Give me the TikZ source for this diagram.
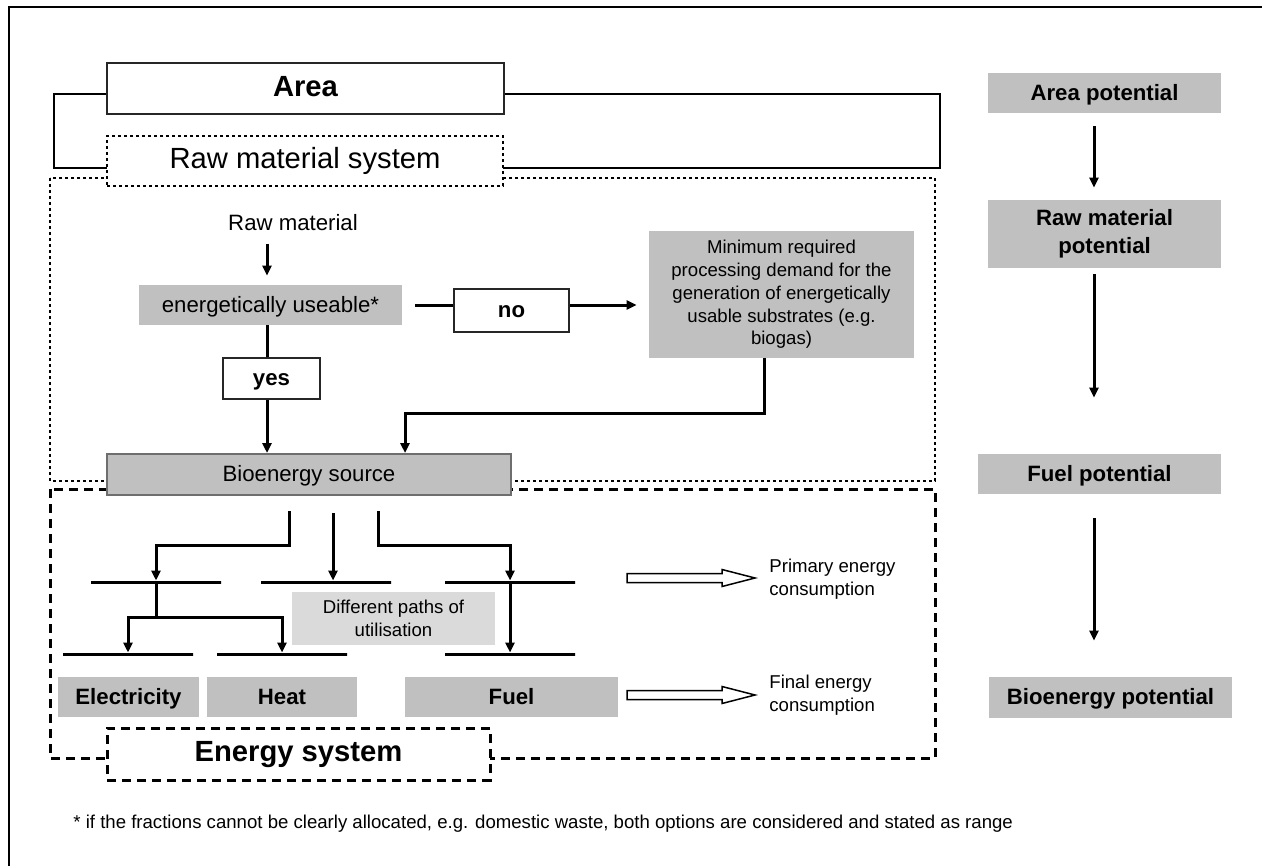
\documentclass[tikz,border=0pt]{standalone}
\usepackage{fontspec}
\setmainfont{Liberation Sans}
\usetikzlibrary{arrows.meta,calc}
\definecolor{boxgray}{HTML}{C0C0C0}
\definecolor{lightboxgray}{HTML}{DADADA}
\definecolor{bordergray}{HTML}{6E6E6E}
\newcommand\fbig{\fontsize{14.6}{17}\selectfont}
\newcommand\fmed{\fontsize{11.1}{14}\selectfont}
\newcommand\fsmall{\fontsize{9.3}{11.35}\selectfont}
\begin{document}
\begin{tikzpicture}[x=0.5pt,y=-0.5pt,
  box/.style={rectangle, inner sep=0pt, align=center},
  oneline/.style={text height=0.72em, text depth=0pt},
  gbox/.style={box, fill=boxgray},
  wbox/.style={box, draw=black!85, fill=white, line width=1pt},
  dotline/.style={line width=1.4pt, dash pattern=on 1.4pt off 1.6pt},
  dashline/.style={line width=1.5pt, dash pattern=on 4.5pt off 3pt},
  dotbox/.style={box, draw, fill=white, dotline},
  conn/.style={line width=1.5pt},
  arr/.style={conn, -{Triangle[length=5pt,width=4.5pt]}},
  bar/.style={draw, line width=1.5pt, minimum height=0pt, minimum width=65pt, inner sep=0pt},
  hollow/.style={draw, line width=0.75pt, fill=white},
  label/.style={inner sep=0pt, align=left, anchor=west, font=\fsmall}
]
\useasboundingbox (0,0) rectangle (1262,866);
% outer frame (left and top visible)
\draw[line width=1.3pt] (9,866) -- (9,7) -- (1262,7);
% system outlines
\draw[line width=1pt] (54,94) rectangle (940,168);
\draw[dotline] (50,178) rectangle (935,481);
\draw[dashline] (50,489) rectangle (935,758);

% nodes
\node[wbox, oneline, minimum width=198.5pt, minimum height=25.5pt, font=\fbig\bfseries] (area) at (305.5,89) {Area};
\node[dotbox, oneline, minimum width=198pt, minimum height=25pt, font=\fbig] (rawsys) at (305,161) {Raw material system};
\node[box, font=\fmed] (rawmat) at (293,223) {Raw material};
\node[gbox, oneline, minimum width=131.5pt, minimum height=20pt, font=\fmed] (energ) at (270.5,305) {energetically useable*};
\node[wbox, oneline, minimum width=48.5pt, minimum height=20.5pt, font=\fmed\bfseries] (yes) at (271.5,378.5) {yes};
\node[wbox, oneline, minimum width=57.5pt, minimum height=21.5pt, font=\fmed\bfseries] (no) at (511.5,310.5) {no};
\node[gbox, minimum width=132.5pt, minimum height=63.5pt, font=\fsmall] (minbox) at (781.5,294.5) {Minimum required\\processing demand for the\\generation of energetically\\usable substrates (e.g.\\biogas)};
\node[gbox, oneline, draw=bordergray, line width=1pt, minimum width=202pt, minimum height=20.5pt, font=\fmed] (bio) at (309,474.5) {Bioenergy source};

\node[gbox, oneline, minimum width=116.5pt, minimum height=20pt, font=\fmed\bfseries] (areapot) at (1104.5,93) {Area potential};
\node[gbox, minimum width=116.5pt, minimum height=34pt, font=\fmed\bfseries] (rawpot) at (1104.5,234) {Raw material\\potential};
\node[gbox, oneline, minimum width=121.5pt, minimum height=20pt, font=\fmed\bfseries] (fuelpot) at (1099.5,474) {Fuel potential};
\node[gbox, oneline, minimum width=121.5pt, minimum height=20.5pt, font=\fmed\bfseries] (biopot) at (1110.5,697.5) {Bioenergy potential};

\node[gbox, oneline, minimum width=70.5pt, minimum height=20pt, font=\fmed\bfseries] (elec) at (128.5,697) {Electricity};
\node[gbox, oneline, minimum width=75pt, minimum height=20pt, font=\fmed\bfseries] (heat) at (282,697) {Heat};
\node[gbox, oneline, minimum width=106.5pt, minimum height=20pt, font=\fmed\bfseries] (fuel) at (511.5,697) {Fuel};
\node[box, fill=lightboxgray, minimum width=101.5pt, minimum height=26.5pt, font=\fsmall] (diff) at (393.5,618.5) {Different paths of\\utilisation};
\node[box, oneline, draw, fill=white, dashline, minimum width=191.5pt, minimum height=26pt, font=\fbig\bfseries] (esys) at (298.5,754) {Energy system};

\node[bar] (b1) at (156,582) {};
\node[bar] (b2) at (326,582) {};
\node[bar] (b3) at (510,582) {};
\node[bar] (c1) at (128,654) {};
\node[bar] (c2) at (282,654) {};
\node[bar] (c3) at (510,654) {};

\node[label] (prim) at (769,579) {Primary energy\\consumption};
\node[label] (final) at (769,695.5) {Final energy\\consumption};
\node[label] (foot) at (73,824) {* if the fractions cannot be clearly allocated, e.g. domestic waste, both options are considered and stated as range};

% connectors: raw material system
\coordinate (yx) at (267,0);
\draw[arr, shorten <=6pt, shorten >=4.5pt] (rawmat.south -| yx) -- (energ.north -| yx);
\draw[conn] (energ.south -| yx) -- (yes.north -| yx);
\draw[arr] (yes.south -| yx) -- (bio.north -| yx);
\draw[conn, shorten <=6.5pt] (energ.east) -- (energ.east -| no.west);
\draw[arr, shorten >=6pt] (energ.east -| no.east) -- (energ.east -| minbox.west);
\coordinate (mx) at (764,0);
\coordinate (mc) at (405,413);
\draw[arr] (minbox.south -| mx) |- (mc) -- (bio.north -| mc);

% connectors: energy system
\coordinate (s1) at (289,511);
\coordinate (s2) at (333,513);
\coordinate (s3) at (378,511);
\coordinate (k1) at (156,545);
\coordinate (k3) at (510,545);
\coordinate (j) at (156,617);
\draw[arr] (s1) |- (k1) -- (b1.north);
\draw[arr] (s2) -- (s2 |- b2.north);
\draw[arr] (s3) |- (k3) -- (b3.north);
\draw[arr] (b3.south) -- (c3.north);
\draw[conn] (b1.south) -- (j);
\draw[arr] (j) -| (c1.north);
\draw[arr] (j) -| (c2.north);

% hollow arrows
\draw[hollow] (627,573.5) -- (722,573.5) -- (722,569.5) -- (755,578) -- (722,586.5) -- (722,582.5) -- (627,582.5) -- cycle;
\draw[hollow] (627,690.5) -- (722,690.5) -- (722,686.5) -- (755,695) -- (722,703.5) -- (722,699.5) -- (627,699.5) -- cycle;

% potentials
\coordinate (ax) at (1094,0);
\draw[arr, shorten <=6.5pt, shorten >=6pt] (areapot.south -| ax) -- (rawpot.north -| ax);
\draw[arr, shorten <=3pt, shorten >=28pt] (rawpot.south -| ax) -- (fuelpot.north -| ax);
\draw[arr, shorten <=12pt, shorten >=18pt] (fuelpot.south -| ax) -- (biopot.north -| ax);
\end{tikzpicture}
\end{document}
